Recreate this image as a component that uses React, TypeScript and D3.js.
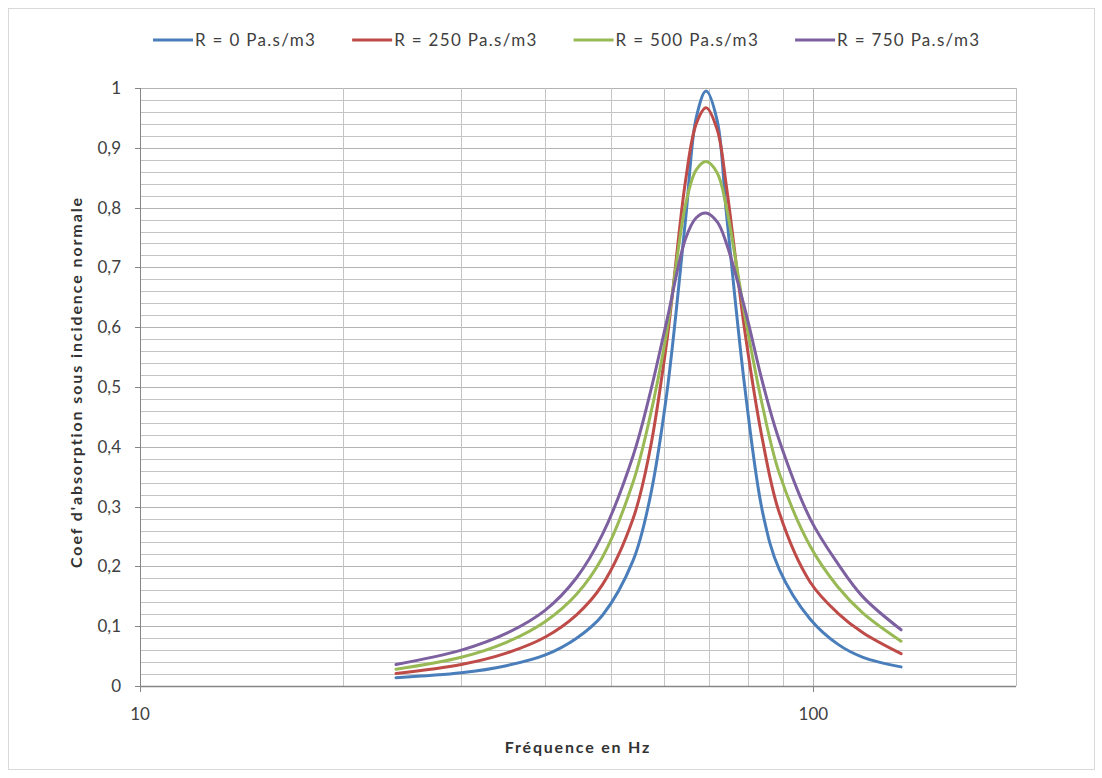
import React, { useEffect, useRef } from "react";
import * as d3 from "d3";

const freqs = [24, 30, 35, 40, 44.5, 48.6, 54, 57.1, 60.6, 64.6, 67, 69.3, 72, 74.3, 79.2, 84.1, 89, 98.9, 108.7, 118.5, 135];
const r0 = [0.014, 0.022, 0.034, 0.052, 0.080, 0.118, 0.21, 0.31, 0.49, 0.78, 0.95, 0.995, 0.945, 0.79, 0.495, 0.29, 0.195, 0.112, 0.070, 0.048, 0.032];
const r250 = [0.021, 0.036, 0.055, 0.082, 0.119, 0.169, 0.28, 0.39, 0.577, 0.845, 0.94, 0.967, 0.93, 0.835, 0.59, 0.41, 0.29, 0.174, 0.122, 0.089, 0.054];
const r500 = [0.028, 0.048, 0.073, 0.108, 0.1535, 0.215, 0.341, 0.446, 0.593, 0.805, 0.863, 0.877, 0.858, 0.80, 0.617, 0.467, 0.356, 0.234, 0.166, 0.122, 0.075];
const r750 = [0.036, 0.060, 0.088, 0.127, 0.181, 0.253, 0.385, 0.485, 0.611, 0.748, 0.783, 0.791, 0.776, 0.74, 0.629, 0.507, 0.411, 0.28, 0.205, 0.149, 0.094];

const seriesNames = ["R = 0 Pa.s/m3", "R = 250 Pa.s/m3", "R = 500 Pa.s/m3", "R = 750 Pa.s/m3"];
const seriesValues = [r0, r250, r500, r750];
const seriesColors = ["#4A7EBB", "#BE4B48", "#98B954", "#7D60A0"];

const yTicks = [0, 0.1, 0.2, 0.3, 0.4, 0.5, 0.6, 0.7, 0.8, 0.9, 1];
const yMinor = d3.range(0, 1.0001, 0.02);
const xMajor = [10, 100];
const xMinor = [20, 30, 40, 50, 60, 70, 80, 90];

const W = 1102, H = 778;
const L = 140, R = 1016, T = 88, B = 686;
const FONT = "Lato, 'Open Sans', sans-serif";

export default function App() {
  const ref = useRef<SVGSVGElement>(null);
  useEffect(() => {
    const svg = d3.select(ref.current);
    svg.selectAll("*").remove();
    const x = d3.scaleLog().domain([10, 200]).range([L, R]);
    const y = d3.scaleLinear().domain([0, 1]).range([B, T]);

    svg.append("rect").attr("x", 0).attr("y", 0).attr("width", W).attr("height", H).attr("fill", "#fff");
    svg.append("rect").attr("x", 8.5).attr("y", 8.5).attr("width", 1086).attr("height", 761)
      .attr("fill", "none").attr("stroke", "#d9d9d9");

    const g = svg.append("g");
    g.selectAll(".hm").data(yMinor).enter().append("line")
      .attr("x1", L).attr("x2", R)
      .attr("y1", d => Math.round(y(d)) + 0.5).attr("y2", d => Math.round(y(d)) + 0.5)
      .attr("stroke", "#c4c4c4").attr("stroke-width", 1);
    g.selectAll(".hM").data(yTicks).enter().append("line")
      .attr("x1", L).attr("x2", R)
      .attr("y1", d => Math.round(y(d)) + 0.5).attr("y2", d => Math.round(y(d)) + 0.5)
      .attr("stroke", "#b3b3b3").attr("stroke-width", 1);
    g.selectAll(".vm").data(xMinor).enter().append("line")
      .attr("y1", T).attr("y2", B)
      .attr("x1", d => Math.round(x(d)) + 0.5).attr("x2", d => Math.round(x(d)) + 0.5)
      .attr("stroke", "#c4c4c4");
    g.selectAll(".vM").data(xMajor).enter().append("line")
      .attr("y1", T).attr("y2", B)
      .attr("x1", d => Math.round(x(d)) + 0.5).attr("x2", d => Math.round(x(d)) + 0.5)
      .attr("stroke", "#b3b3b3");
    g.append("line").attr("x1", R + 0.5).attr("x2", R + 0.5).attr("y1", T).attr("y2", B).attr("stroke", "#bfbfbf");

    const axisColor = "#868686";
    g.append("line").attr("x1", L + 0.5).attr("x2", L + 0.5).attr("y1", T).attr("y2", B + 5).attr("stroke", axisColor);
    g.append("line").attr("x1", L).attr("x2", R).attr("y1", B + 0.5).attr("y2", B + 0.5).attr("stroke", axisColor).attr("stroke-width", 1.5);
    g.selectAll(".yt").data(yTicks).enter().append("line")
      .attr("x1", L - 5).attr("x2", L)
      .attr("y1", d => Math.round(y(d)) + 0.5).attr("y2", d => Math.round(y(d)) + 0.5)
      .attr("stroke", axisColor);
    g.selectAll(".xt").data(xMajor).enter().append("line")
      .attr("y1", B).attr("y2", B + 6)
      .attr("x1", d => Math.round(x(d)) + 0.5).attr("x2", d => Math.round(x(d)) + 0.5)
      .attr("stroke", axisColor);

    g.selectAll(".yl").data(yTicks).enter().append("text")
      .attr("x", 121).attr("y", d => y(d)).attr("dy", "0.35em")
      .attr("text-anchor", "end").attr("font-family", FONT).attr("font-size", 17)
      .attr("fill", "#404040")
      .text(d => d3.format(".1~f")(d).replace(".", ","));
    g.selectAll(".xl").data(xMajor).enter().append("text")
      .attr("x", d => x(d)).attr("y", 720)
      .attr("text-anchor", "middle").attr("font-family", FONT).attr("font-size", 17)
      .attr("fill", "#404040")
      .text(d => String(d));

    g.append("text").attr("x", (L + R) / 2).attr("y", 753).attr("text-anchor", "middle")
      .attr("font-family", FONT).attr("font-size", 16).attr("font-weight", "bold").attr("letter-spacing", 1.8)
      .attr("fill", "#333").text("Fréquence en Hz");
    g.append("text").attr("transform", `translate(82, ${(T + B) / 2 - 5}) rotate(-90)`)
      .attr("text-anchor", "middle")
      .attr("font-family", FONT).attr("font-size", 16).attr("font-weight", "bold").attr("letter-spacing", 1.9)
      .attr("fill", "#333").text("Coef d'absorption sous incidence normale");

    const line = d3.line<number>()
      .x((_, i) => x(freqs[i]))
      .y(d => y(d))
      .curve(d3.curveCatmullRom.alpha(0.5));
    seriesValues.forEach((vals, k) => {
      g.append("path").attr("d", line(vals) as string)
        .attr("fill", "none").attr("stroke", seriesColors[k]).attr("stroke-width", 3)
        .attr("stroke-linecap", "round").attr("stroke-linejoin", "round");
    });

    const leg = svg.append("g");
    let cx = 153;
    seriesNames.forEach((name, k) => {
      leg.append("line").attr("x1", cx).attr("x2", cx + 40).attr("y1", 40).attr("y2", 40)
        .attr("stroke", seriesColors[k]).attr("stroke-width", 3);
      const t = leg.append("text").attr("x", cx + 42).attr("y", 40).attr("dy", "0.35em")
        .attr("font-family", FONT).attr("font-size", 17).attr("letter-spacing", 1.3)
        .attr("fill", "#404040").text(name);
      const w = (t.node() as SVGTextElement).getComputedTextLength();
      cx = cx + 42 + w + 36;
    });
  }, []);
  return (
    <svg ref={ref} width={W} height={H} style={{ position: "absolute", left: 0, top: 0 }} />
  );
}
